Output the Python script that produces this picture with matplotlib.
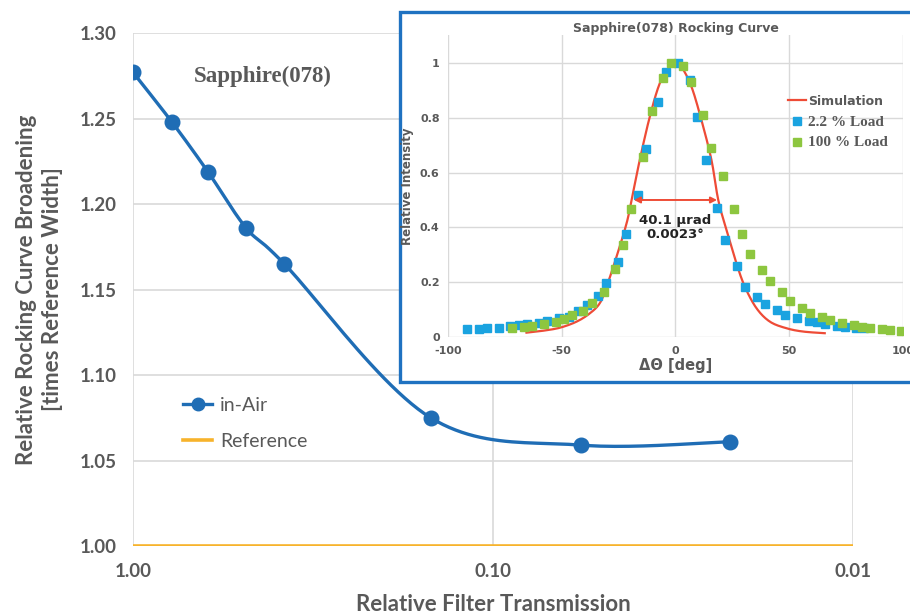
import matplotlib.pyplot as plt
from matplotlib.patches import Rectangle
from matplotlib.ticker import FixedLocator, FixedFormatter, NullLocator
import numpy as np

plt.rcParams["axes.unicode_minus"] = False

# main chart data
transmission = [1.0, 0.78, 0.62, 0.485, 0.38, 0.149, 0.057, 0.022]
broadening = [1.277, 1.248, 1.219, 1.186, 1.165, 1.075, 1.059, 1.061]
ref_x = [1.0, 0.01]
ref_y = [1.0, 1.0]

# inset data
sim_x = [-65.5, -58.2, -50.8, -43.5, -37.7, -33.3, -30.3, -25.9, -21.5, -19.3, -15.7, -11.3,
         -6.9, -2.5, 0, 2.6, 7.0, 11.4, 15.8, 18.8, 22.4, 26.8, 30.5, 35.6, 41.5, 48.8, 56.1, 65.6]
sim_y = [0.017, 0.024, 0.035, 0.057, 0.087, 0.124, 0.184, 0.294, 0.415, 0.5, 0.646, 0.803,
         0.925, 0.985, 0.998, 0.985, 0.913, 0.791, 0.646, 0.5, 0.391, 0.269, 0.184, 0.106,
         0.057, 0.033, 0.021, 0.015]
load22_x = [-91.6, -86.4, -82.8, -77.7, -72.6, -69.0, -65.3, -60.2, -56.7, -51.4, -47.0, -42.8,
            -39.1, -34.0, -30.5, -25.3, -21.7, -16.6, -13.0, -7.9, -4.2, 0.9, 6.3, 9.5, 13.2,
            18.3, 21.8, 27.0, 30.6, 35.8, 39.3, 44.4, 48.1, 53.2, 58.6, 62.1, 65.5, 70.8, 74.3,
            79.4, 82.9]
load22_y = [0.030, 0.032, 0.033, 0.035, 0.041, 0.045, 0.047, 0.053, 0.061, 0.070, 0.075, 0.096,
            0.117, 0.150, 0.199, 0.273, 0.376, 0.517, 0.684, 0.857, 0.967, 1.0, 0.937, 0.803,
            0.644, 0.471, 0.354, 0.258, 0.184, 0.146, 0.120, 0.098, 0.083, 0.070, 0.061, 0.055,
            0.047, 0.042, 0.039, 0.035, 0.033]
load100_x = [-71.8, -66.7, -63.0, -57.9, -52.7, -49.2, -45.6, -40.6, -36.9, -31.6, -26.4, -22.9,
             -19.5, -14.1, -10.5, -5.4, -1.9, 3.2, 6.7, 12.0, 15.5, 20.7, 25.9, 29.4, 32.9, 38.2,
             41.6, 47.0, 50.4, 55.8, 59.2, 64.3, 67.8, 73.1, 78.4, 82.1, 85.4, 90.7, 94.2, 99.3]
load100_y = [0.035, 0.038, 0.041, 0.047, 0.056, 0.066, 0.081, 0.097, 0.124, 0.165, 0.248, 0.336,
             0.468, 0.658, 0.823, 0.943, 1.0, 0.989, 0.928, 0.809, 0.688, 0.587, 0.468, 0.376,
             0.305, 0.246, 0.206, 0.166, 0.131, 0.106, 0.089, 0.075, 0.062, 0.051, 0.044, 0.039,
             0.034, 0.029, 0.027, 0.023]

GREY = "#595959"
GRID = "#D9D9D9"


def smooth(xs, ys, n=24):
    # catmull-rom, like excel's smoothed line
    p = np.column_stack([xs, ys]).astype(float)
    p = np.vstack([p[0], p, p[-1]])
    out = []
    t = np.linspace(0, 1, n, endpoint=False)[:, None]
    for i in range(1, len(p) - 2):
        p0, p1, p2, p3 = p[i - 1], p[i], p[i + 1], p[i + 2]
        seg = 0.5 * (2 * p1 + (-p0 + p2) * t + (2 * p0 - 5 * p1 + 4 * p2 - p3) * t ** 2
                     + (-p0 + 3 * p1 - 3 * p2 + p3) * t ** 3)
        out.append(seg)
    out.append(p[-2][None])
    out = np.vstack(out)
    return out[:, 0], out[:, 1]


fig = plt.figure(figsize=(9.1, 6.15), dpi=100)
ax = fig.add_axes([0.1462, 0.1122, 0.7912, 0.834])

lx, ly = smooth(np.log10(transmission), broadening)
ax.plot(10 ** lx, ly, color="#1F6DB5", lw=2.4, zorder=3)
ax.plot(transmission, broadening, "o", color="#1F6DB5", ms=10.5, zorder=4)
ax.plot([], [], "-o", color="#1F6DB5", lw=2.4, ms=9, label="in-Air")
ax.plot(ref_x, ref_y, color="#F7B32B", lw=2.6, label="Reference", zorder=3)

ax.set_xscale("log")
ax.set_xlim(1.0, 0.01)
ax.set_ylim(1.0, 1.30)
ax.xaxis.set_major_locator(FixedLocator([1.0, 0.1, 0.01]))
ax.xaxis.set_major_formatter(FixedFormatter(["1.00", "0.10", "0.01"]))
ax.xaxis.set_minor_locator(NullLocator())
ax.set_yticks(np.arange(1.0, 1.301, 0.05))
ax.set_yticklabels([f"{v:.2f}" for v in np.arange(1.0, 1.301, 0.05)])
ax.grid(True, color=GRID, lw=1.2)
ax.set_axisbelow(True)
for s in ax.spines.values():
    s.set_visible(False)
ax.tick_params(length=0, labelsize=13.5, colors=GREY, pad=12)
for lab in ax.get_xticklabels() + ax.get_yticklabels():
    lab.set_fontweight("bold")
    lab.set_family("Lato")
ax.set_xlabel("Relative Filter Transmission", fontsize=16, fontweight="bold", color=GREY,
              family="Lato", labelpad=10)
ax.set_ylabel("Relative Rocking Curve Broadening\n[times Reference Width]", fontsize=16,
              fontweight="bold", color=GREY, family="Lato", labelpad=12, linespacing=1.3)
ax.text(0.085, 0.905, "Sapphire(078)", transform=ax.transAxes, fontsize=16.5, fontweight="bold",
        color=GREY, family="Liberation Serif")
leg = ax.legend(loc="upper left", bbox_to_anchor=(0.045, 0.325), frameon=False,
                handlelength=1.5, handletextpad=0.4, labelspacing=1.0, labelcolor=GREY,
                prop={"family": "Lato", "size": 14})

# inset frame
fig.patches.append(Rectangle((0.4396, 0.379), 0.62, 0.6015, transform=fig.transFigure,
                             fill=True, facecolor="white", edgecolor="#1F72C1", lw=2.4, zorder=5))

ins = fig.add_axes([0.4923, 0.4515, 0.5, 0.4913], zorder=6)
sx, sy = smooth(sim_x, sim_y, n=10)
ins.plot(sx, sy, color="#EE4B36", lw=1.6, label="Simulation", zorder=3)
ins.plot(load22_x, load22_y, "s", color="#1AA3E0", ms=5.5, label="2.2 % Load", zorder=4)
ins.plot(load100_x, load100_y, "s", color="#8DC63F", ms=5.5, label="100 % Load", zorder=4)
ins.annotate("", xy=(-19.5, 0.5), xytext=(19.5, 0.5),
             arrowprops=dict(arrowstyle="<|-|>", color="#EE4B36", lw=1.4, mutation_scale=9),
             zorder=5)
ins.text(0, 0.40, "40.1 µrad\n0.0023°", ha="center", va="center", fontsize=9.5,
         fontweight="bold", color="#222222", linespacing=1.1)
ins.set_xlim(-100, 100)
ins.set_ylim(0, 1.1)
ins.set_xticks([-100, -50, 0, 50, 100])
ins.set_yticks([0, 0.2, 0.4, 0.6, 0.8, 1.0])
ins.set_yticklabels(["0", "0.2", "0.4", "0.6", "0.8", "1"])
ins.grid(True, color=GRID, lw=1.0)
ins.set_axisbelow(True)
for s in ins.spines.values():
    s.set_visible(False)
ins.tick_params(length=0, labelsize=8, colors=GREY, pad=6)
for lab in ins.get_xticklabels() + ins.get_yticklabels():
    lab.set_fontweight("bold")
ins.set_title("Sapphire(078) Rocking Curve", fontsize=9, fontweight="bold", color=GREY, pad=0)
ins.set_xlabel("ΔΘ [deg]", fontsize=10.5, fontweight="bold", color=GREY, labelpad=2)
ins.set_ylabel("Relative Intensity", fontsize=8.5, fontweight="bold", color=GREY, labelpad=4)
ileg = ins.legend(loc="upper right", bbox_to_anchor=(0.98, 0.82), frameon=False,
                  handlelength=1.3, handletextpad=0.2, labelspacing=0.55, borderaxespad=0)
for i, txt in enumerate(ileg.get_texts()):
    txt.set_color(GREY)
    txt.set_fontweight("bold")
    if i == 0:
        txt.set_fontsize(9)
        txt.set_family("DejaVu Sans")
    else:
        txt.set_fontsize(11)
        txt.set_family("Liberation Serif")

fig.savefig("out.png", dpi=100)
